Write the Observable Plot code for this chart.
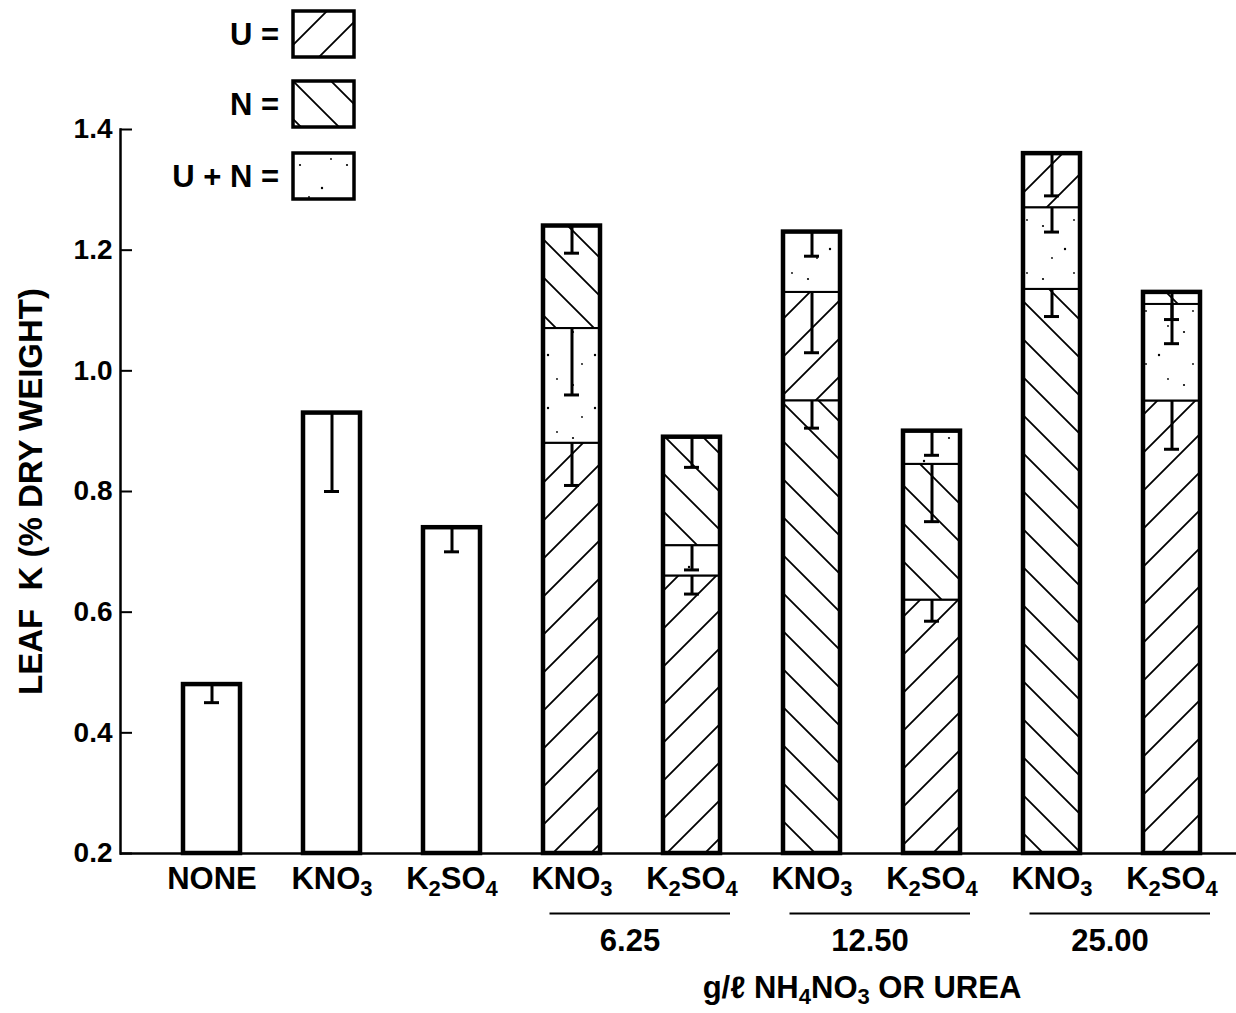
<!DOCTYPE html>
<html>
<head>
<meta charset="utf-8">
<script src="https://cdn.jsdelivr.net/npm/d3@7"></script>
<script src="https://cdn.jsdelivr.net/npm/@observablehq/plot@0.6"></script>
<style>
  html, body { margin: 0; padding: 0; background: #fff; }
  body { font-family: "Liberation Sans", Arial, Helvetica, sans-serif; color: #000; }
  #wrap { position: relative; width: 1236px; height: 1013px; overflow: hidden; }
  #legend .lrow { position: absolute; left: 0; display: flex; align-items: center; font-weight: bold; font-size: 31px; }
  #legend .lab { width: 291px; text-align: right; padding-right: 12px; box-sizing: border-box; white-space: pre; }
  #legend svg { display: block; }
  #xtitle { position: absolute; top: 970px; left: 862px; transform: translateX(-50%); font-weight: bold; font-size: 31px; white-space: nowrap; }
  #xtitle sub { font-size: 22px; vertical-align: -6px; line-height: 0; }
</style>
</head>
<body>
<svg width="0" height="0" style="position:absolute">
  <defs>
    <pattern id="hatchU" patternUnits="userSpaceOnUse" width="38" height="38">
      <rect width="38" height="38" fill="#fff"/>
      <path d="M-3,3 L3,-3 M0,38 L38,0 M35,41 L41,35" stroke="#000" stroke-width="1.8" fill="none"/>
    </pattern>
    <pattern id="hatchN" patternUnits="userSpaceOnUse" width="38" height="38">
      <rect width="38" height="38" fill="#fff"/>
      <path d="M-3,35 L3,41 M0,0 L38,38 M35,-3 L41,3" stroke="#000" stroke-width="1.8" fill="none"/>
    </pattern>
    <pattern id="stipple" patternUnits="userSpaceOnUse" width="47" height="53">
      <rect width="47" height="53" fill="#fff"/>
      <circle cx="9" cy="14" r="1.1" fill="#000"/>
      <circle cx="31" cy="37" r="1.2" fill="#000"/>
      <circle cx="40" cy="8" r="0.9" fill="#000"/>
      <circle cx="18" cy="46" r="0.9" fill="#000"/>
    </pattern>
  </defs>
</svg>
<div id="wrap">
  <div id="chart"></div>
  <div id="legend"></div>
  <div id="xtitle">g/ℓ NH<sub>4</sub>NO<sub>3</sub> OR UREA</div>
</div>
<script>
// ---------- data ----------
const salts = ["NONE", "KNO3", "K2SO4", "KNO3", "K2SO4", "KNO3", "K2SO4", "KNO3", "K2SO4"];
const rates = ["", "", "", "6.25", "6.25", "12.50", "12.50", "25.00", "25.00"];
const groupRates = ["6.25", "12.50", "25.00"];

// stacked segments: bar index, component, lower and upper value, lower end of error bar
const segBar  = [0, 1, 2, 3, 3, 3, 4, 4, 4, 5, 5, 5, 6, 6, 6, 7, 7, 7, 8, 8, 8];
const segType = ["none", "none", "none",
                 "U", "U+N", "N",
                 "U", "U+N", "N",
                 "N", "U", "U+N",
                 "U", "N", "U+N",
                 "N", "U+N", "U",
                 "U", "U+N", "N"];
const segLow  = [0.2, 0.2, 0.2,
                 0.2, 0.88, 1.07,
                 0.2, 0.66, 0.71,
                 0.2, 0.95, 1.13,
                 0.2, 0.62, 0.845,
                 0.2, 1.135, 1.27,
                 0.2, 0.95, 1.11];
const segHigh = [0.48, 0.93, 0.74,
                 0.88, 1.07, 1.24,
                 0.66, 0.71, 0.89,
                 0.95, 1.13, 1.23,
                 0.62, 0.845, 0.90,
                 1.135, 1.27, 1.36,
                 0.95, 1.11, 1.13];
const errLow  = [0.45, 0.80, 0.70,
                 0.81, 0.96, 1.195,
                 0.63, 0.67, 0.84,
                 0.905, 1.03, 1.19,
                 0.585, 0.75, 0.86,
                 1.09, 1.23, 1.29,
                 0.87, 1.045, 1.085];

const yTicks = [0.2, 0.4, 0.6, 0.8, 1.0, 1.2, 1.4];
const legendLabels = ["U =", "N =", "U + N ="];
const legendTypes = ["U", "N", "U+N"];
const yLabel = "LEAF\u00A0\u00A0K (% DRY WEIGHT)";

// ---------- derived tables ----------
const barKeys = salts.map((s, i) => rates[i] ? `${s} ${rates[i]}` : s);
const segments = segBar.map((b, i) => ({
  key: barKeys[b], type: segType[i], y1: segLow[i], y2: segHigh[i], err: errLow[i]
}));
const totals = barKeys.map(k => {
  const s = segments.filter(d => d.key === k);
  return {key: k, y1: d3.min(s, d => d.y1), y2: d3.max(s, d => d.y2)};
});
const fillFor = {"none": "#fff", "U": "url(#hatchU)", "N": "url(#hatchN)", "U+N": "url(#stipple)"};

// ---------- chart ----------
const W = 1236, H = 960, ML = 120, MR = 0, MT = 129, MB = 107;
const font = '"Liberation Sans", Arial, Helvetica, sans-serif';

const chart = Plot.plot({
  width: W, height: H,
  marginLeft: ML, marginRight: MR, marginTop: MT, marginBottom: MB,
  style: {fontFamily: font, fontWeight: "bold", color: "#000", background: "#fff", overflow: "visible"},
  x: {domain: barKeys, paddingInner: 0.526, paddingOuter: 0.4015, align: 0.637, label: null},
  y: {domain: [0.2, 1.4], ticks: yTicks, label: yLabel},
  marks: [
    ...["none", "U", "N", "U+N"].map(t =>
      Plot.barY(segments.filter(d => d.type === t), {
        x: "key", y1: "y1", y2: "y2", fill: fillFor[t], stroke: "#000", strokeWidth: 2
      })
    ),
    Plot.ruleX(segments, {x: "key", y1: "err", y2: "y2", stroke: "#000", strokeWidth: 3}),
    Plot.tickY(segments, {x: "key", y: "err", stroke: "#000", strokeWidth: 3, insetLeft: 21, insetRight: 21}),
    Plot.barY(totals, {x: "key", y1: "y1", y2: "y2", fill: "none", stroke: "#000", strokeWidth: 4.5}),
    Plot.ruleY([0.2], {stroke: "#000", strokeWidth: 2.5}),
    Plot.frame({anchor: "left", stroke: "#000", strokeWidth: 2.5}),
    Plot.gridY(yTicks, {stroke: "#000", strokeOpacity: 1, strokeWidth: 2, insetRight: W - ML - MR - 12}),
    Plot.axisY(yTicks, {
      tickSize: 0, tickPadding: 8, fontSize: 28, fontWeight: "bold",
      tickFormat: d3.format(".1f"),
      label: yLabel, labelAnchor: "center", labelArrow: "none", labelOffset: 102
    }),
    Plot.axisX({
      tickSize: 0, tickPadding: 13, fontSize: 31, fontWeight: "bold",
      tickFormat: d => d.split(" ")[0], label: null
    }),
    Plot.tickY(groupRates, {
      x: r => "KNO3 " + r, y: () => 0.2, dy: 60,
      insetLeft: 6.5, insetRight: -130, stroke: "#000", strokeWidth: 2
    }),
    Plot.text(groupRates, {
      x: r => "KNO3 " + r, y: () => 0.2, text: d => d,
      dx: 58, dy: 88, fontSize: 31, fontWeight: "bold", fill: "#000"
    })
  ]
});
document.getElementById("chart").appendChild(chart);

// y-axis title size
d3.select(chart).selectAll('g[aria-label="y-axis label"]').attr("font-size", 33);

// chemical subscripts in x tick labels
d3.select(chart).selectAll('g[aria-label="x-axis tick label"] text').each(function () {
  const s = this.textContent;
  const parts = s.match(/\d+|\D+/g) || [s];
  const el = d3.select(this);
  el.text(null);
  let sub = false;
  parts.forEach(p => {
    const isDigit = /^\d+$/.test(p);
    const t = el.append("tspan").text(p);
    if (isDigit) { t.attr("font-size", 22).attr("dy", 7); sub = true; }
    else if (sub) { t.attr("dy", -7); sub = false; }
  });
});

// legend
const legend = d3.select("#legend");
const rowTops = [9, 79, 151];
legendLabels.forEach((lab, i) => {
  const row = legend.append("div").attr("class", "lrow").style("top", rowTops[i] + "px");
  row.append("div").attr("class", "lab").text(lab);
  const sv = row.append("svg").attr("width", 66).attr("height", 52);
  sv.append("rect").attr("x", 2).attr("y", 2).attr("width", 61).attr("height", 46)
    .attr("fill", fillFor[legendTypes[i]]).attr("stroke", "#000").attr("stroke-width", 3.5);
});
</script>
</body>
</html>
